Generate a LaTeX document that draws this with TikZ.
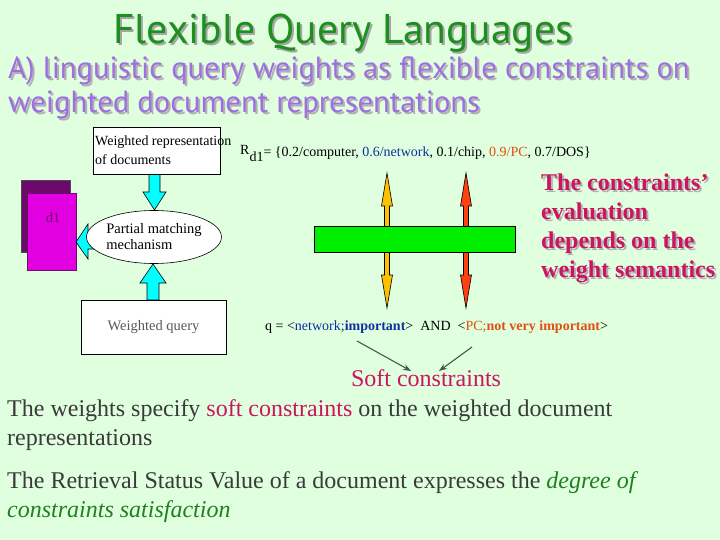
\documentclass[tikz,border=0pt]{standalone}
\usepackage{fontspec}
\setmainfont{Liberation Serif}
\newfontfamily\titlefont{PT Sans}
\usetikzlibrary{shapes.geometric,arrows.meta}

\definecolor{bggreen}{HTML}{DFFFDF}
\definecolor{titlegreen}{HTML}{1E8E1E}
\definecolor{subpurple}{HTML}{9F6FDF}
\definecolor{crimson}{HTML}{CC1560}
\definecolor{docmagenta}{HTML}{E000E0}
\definecolor{docpurple}{HTML}{6B0A6B}
\definecolor{barfill}{HTML}{00EE00}
\definecolor{yellowarr}{HTML}{FFC000}
\definecolor{redarr}{HTML}{FF4010}
\definecolor{cyanfill}{HTML}{00FFFF}
\definecolor{qblue}{HTML}{1030A0}
\definecolor{qorange}{HTML}{E05010}
\definecolor{bodygray}{HTML}{3A3A3A}
\definecolor{italgreen}{HTML}{208020}
\definecolor{softgray}{HTML}{405850}

\tikzset{
  titletxt/.style={font=\titlefont\fontsize{41.5}{41.5}\selectfont},
  subtxt/.style={font=\titlefont\fontsize{30.6}{30.6}\selectfont},
  smalltxt/.style={font=\fontsize{14}{19}\selectfont},
  bigtxt/.style={font=\fontsize{24}{29}\selectfont},
  boldtxt/.style={font=\bfseries\fontsize{24}{29}\selectfont},
  cyanarr/.style={fill=cyanfill,draw=black,line width=0.6pt},
  softarrow/.style={softgray,line width=1.1pt,-{Stealth[length=8pt,width=6pt]}}
}

% double headed block arrow at x = #1, colour #2
\newcommand\dblarrow[2]{%
  \filldraw[fill=#2,draw=black,line width=0.6pt]
    (#1-2.5,206) -- (#1-2.5,275) -- (#1-5.5,275) -- (#1,308) -- (#1+5.5,275)
    -- (#1+2.5,275) -- (#1+2.5,206) -- (#1+5.5,206) -- (#1,173) -- (#1-5.5,206) -- cycle;}

\begin{document}
\begin{tikzpicture}[x=1pt,y=-1pt,every node/.style={inner sep=0pt}]
\fill[bggreen] (0,0) rectangle (720,540);
\useasboundingbox (0,0) rectangle (720,540);

% title and subtitle
\node[titletxt,text=black!35,anchor=base] at (345,46) {Flexible Query Languages};
\node[titletxt,text=titlegreen,anchor=base] (title) at (343,44) {Flexible Query Languages};
\node[subtxt,text=black!30,anchor=base west] at (10,81) {A) linguistic query weights as flexible constraints on};
\node[subtxt,text=subpurple,anchor=base west] (sub1) at (8,79) {A) linguistic query weights as flexible constraints on};
\node[subtxt,text=black!30,anchor=base west] at (10,115) {weighted document representations};
\node[subtxt,text=subpurple,anchor=base west] (sub2) at (8,113) {weighted document representations};

% documents
\filldraw[fill=docpurple,draw=black!70] (21,180) rectangle (70,252);
\filldraw[fill=docmagenta,draw=docpurple] (27,193) rectangle (76,270);
\node[smalltxt,text=docpurple] (d1) at (53,218) {d1};

% cyan arrows
\filldraw[cyanarr] (149,174) -- (149,192) -- (143,192) -- (154.5,210) -- (166,192) -- (160,192) -- (160,174) -- cycle;
\filldraw[cyanarr] (100,233) -- (88,233) -- (88,224) -- (76,242) -- (88,259) -- (88,249) -- (100,249) -- cycle;
\filldraw[cyanarr] (147,300) -- (147,283) -- (140,283) -- (153,264) -- (166,283) -- (159,283) -- (159,300) -- cycle;

% boxes and matching
\node[draw,fill=white,line width=0.6pt,minimum width=127,minimum height=47] (rep) at (156.5,150.5) {};
\node[smalltxt,anchor=north west,align=left] (reptext) at (95,136) {Weighted representation\\of documents};
\node[ellipse,draw,fill=white,line width=0.6pt,minimum width=119,minimum height=53,
  align=left,font=\fontsize{14.5}{16}\selectfont] (match) at (154,237) {Partial matching\\mechanism};
\node[draw,fill=white,line width=0.6pt,minimum width=145,minimum height=54,
  text=black!65,font=\fontsize{14.5}{16}\selectfont] (query) at (153.5,327) {Weighted query};

% document representation
\node[smalltxt,anchor=base west] (rd1) at (240,157)
  {\raisebox{2pt}{R}\raisebox{-5pt}{d1}= \{0.2/computer, \textcolor{qblue}{0.6/network}, 0.1/chip, \textcolor{qorange}{0.9/PC}, 0.7/DOS\}};

% constraint arrows and bar
\dblarrow{387}{yellowarr}
\dblarrow{466}{redarr}
\filldraw[fill=barfill,draw=black,line width=0.6pt] (314,226) rectangle (515,252);

\node[boldtxt,text=black!30,anchor=north west,align=left] at (543,176)
  {The constraints'\\evaluation\\depends on the\\weight semantics};
\node[boldtxt,text=crimson,anchor=north west,align=left] (eval) at (541,174)
  {The constraints'\\evaluation\\depends on the\\weight semantics};

% query
\node[smalltxt,anchor=base west] (q) at (265,330)
  {q = <\textcolor{qblue}{network;\textbf{important}}>\ \ AND\ \ <\textcolor{qorange}{PC;\textbf{not very important}}>};
\coordinate (imp) at (357,341);
\coordinate (notimp) at (472,347);
\node[bigtxt,text=crimson,anchor=base] (soft) at (426,386) {Soft constraints};
\coordinate (softl) at (411,371);
\coordinate (softr) at (439,371);
\draw[softarrow] (imp) -- (softl);
\draw[softarrow] (notimp) -- (softr);

% body text
\node[bigtxt,text=bodygray,anchor=base west] (body1) at (7,416)
  {The weights specify \textcolor{crimson}{soft constraints} on the weighted document};
\node[bigtxt,text=bodygray,anchor=base west] (body2) at (7,445) {representations};
\node[bigtxt,text=bodygray,anchor=base west] (body3) at (7,488)
  {The Retrieval Status Value of a document expresses the \textcolor{italgreen}{\itshape degree of}};
\node[bigtxt,text=italgreen,anchor=base west,font=\itshape\fontsize{24}{29}\selectfont] (body4) at (7,517)
  {constraints satisfaction};
\end{tikzpicture}
\end{document}
